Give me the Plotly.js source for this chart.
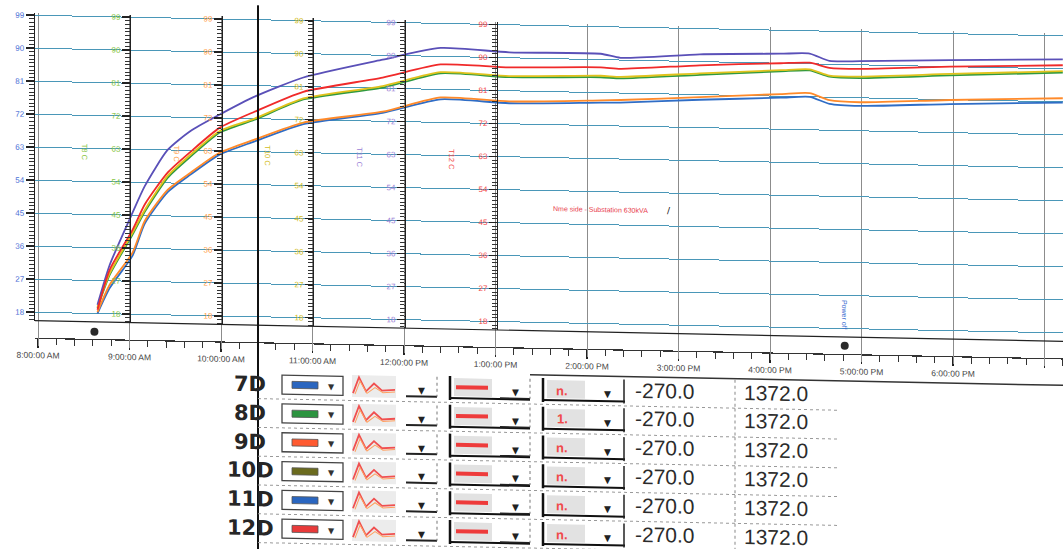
<!DOCTYPE html>
<html><head><meta charset="utf-8">
<script src="https://cdn.plot.ly/plotly-3.0.1.min.js"></script>
<style>
html,body{margin:0;padding:0;background:#fff;overflow:hidden;width:1063px;height:549px}
#chart{width:1063px;height:549px;transform:skewY(1.15deg);transform-origin:0 0;}
</style>
</head><body><div id="chart"></div>
<script>
// ---------------- data ----------------
const day = '2019-06-10 ';
const sampleTimes = ['08:39','08:47','09:02','09:10','09:25','09:40','09:59','10:22','10:54','11:46','12:24',
                     '13:09','14:09','14:22','15:14','16:07','16:26','16:39','16:59','17:58','19:12'];
const series7D  = [18.0,25.0,34.0,42.8,51.5,56.4,62.0,65.8,70.8,74.3,78.3,77.6,78.3,78.4,79.6,80.6,81.0,79.2,78.8,79.8,80.8];
const series8D  = [19.5,28.6,39.7,46.0,55.4,61.3,68.0,71.7,77.5,81.2,85.4,84.7,85.2,85.0,86.4,87.8,88.2,86.6,86.4,87.6,89.0];
const series9D  = [18.4,25.9,34.8,43.5,52.1,56.9,62.5,66.3,71.2,74.6,78.8,78.1,78.9,79.1,80.3,81.6,82.0,80.2,79.8,80.9,82.0];
const series10D = [19.8,29.0,40.2,46.5,55.9,61.8,68.4,72.0,77.8,81.6,85.7,85.0,85.6,85.4,86.8,88.1,88.5,86.9,86.8,88.0,89.4];
const series11D = [20.4,31.3,45.7,53.0,63.0,68.3,72.9,78.0,83.5,88.8,92.3,91.5,91.6,90.6,92.0,92.6,92.8,90.9,91.0,91.8,92.6];
const series12D = [19.0,30.0,41.0,48.0,56.8,62.6,69.3,73.9,79.6,83.9,87.8,87.4,87.9,87.6,89.0,90.0,90.3,89.0,88.9,90.0,91.0];

const rowLabels   = ['7D','8D','9D','10D','11D','12D'];
const modeLabels  = ['n.','1.','n.','n.','n.','n.'];
const minValues   = [-270.0,-270.0,-270.0,-270.0,-270.0,-270.0];
const maxValues   = [1372.0,1372.0,1372.0,1372.0,1372.0,1372.0];
const axisTitles  = ['','T8 C','T9 C','T10 C','T11 C','T12 C'];
const yTickValues = [18,27,36,45,54,63,72,81,90,99];
const eventTimes  = ['08:37','16:49'];
const eventValues = [13.0,13.3];
const eventLabels = ['','Power off'];
const noteText    = 'Nme side - Substation 630kVA';

// ---------------- styles ----------------
const lineColors  = ['#2f6dc6','#2f9a40','#ff8a2a','#e0c21c','#5a50b8','#f02a2a'];
const axisColors  = ['#4b6fd6','#86c441','#ffa04a','#d2bc1e','#9b82d6','#f24a4a'];
const swatchColors= ['#2a66c0','#2c9440','#ff5a30','#6b6b1e','#2a66c0','#e83a3a'];
const axisPx      = [35,130,222,313,405,497];
const W = 1063, H = 549;
const X = p => p / W, Y = p => 1 - p / H;

const allSeries = [series7D, series8D, series9D, series10D, series11D, series12D];
const axisIds = ['y','y2','y3','y4','y5','y6'];
const order = [0,2,1,3,5,4];
const traces = order.map(i => ({
  type:'scatter', mode:'lines', name:rowLabels[i],
  x: sampleTimes.map(t => day + t), y: allSeries[i], yaxis: axisIds[i],
  line:{color:lineColors[i], width:1.8, shape:'spline', smoothing:0.6}
}));
traces.push({type:'scatter', mode:'markers', x:eventTimes.map(t=>day+t), y:eventValues, yaxis:'y7',
  marker:{color:'#2a2a2a', size:8}, cliponaxis:false, showlegend:false});

function yAxis(i){
  const a = {domain:[Y(320),Y(12)], range:[15.7,99.7], tickmode:'array', tickvals:yTickValues,
    ticktext:yTickValues.map(String), ticks:'outside', ticklen:8, tickwidth:1.5, tickcolor:'#222',
    showline:true, linecolor:'#222', linewidth:1.2, zeroline:false,
    tickfont:{family:'Liberation Sans, sans-serif', size:8, color:axisColors[i]},
    minor:{tickmode:'linear', tick0:0, dtick:1, ticklen:5, tickwidth:1, tickcolor:'#333', showgrid:false},
    fixedrange:true};
  if (i === 0) { a.anchor='x'; a.showgrid=true; a.gridcolor='#4a97b8'; a.gridwidth=1; }
  else { a.overlaying='y'; a.anchor='free'; a.position=X(axisPx[i]); a.side='left'; a.showgrid=false; }
  return a;
}

const shapes = [], ann = [];
function line(x0,y0,x1,y1,color,width,dash){shapes.push({type:'line',xref:'paper',yref:'paper',x0:X(x0),y0:Y(y0),x1:X(x1),y1:Y(y1),line:{color:color,width:width,dash:dash||'solid'}});}
function rect(x0,y0,x1,y1,fill,lc,lw){shapes.push({type:'rect',xref:'paper',yref:'paper',x0:X(x0),y0:Y(y1),x1:X(x1),y1:Y(y0),fillcolor:fill,line:{color:lc||'rgba(0,0,0,0)',width:lw||0}});}
function path(pts,color,width){shapes.push({type:'path',xref:'paper',yref:'paper',path:'M'+pts.map(p=>X(p[0]).toFixed(5)+','+Y(p[1]).toFixed(5)).join(' L'),line:{color:color,width:width}});}
function text(x,y,t,size,color,opts){ann.push(Object.assign({xref:'paper',yref:'paper',x:X(x),y:Y(y),text:t,showarrow:false,xanchor:'center',yanchor:'middle',font:{family:'Liberation Sans, sans-serif',size:size,color:color}},opts||{}));}

// chart frame decorations
line(35,320,1063,320,'#222',1.2);
line(258,0,258,549,'#111',2);
line(530,364,1063,364,'#333',1.5);
axisTitles.forEach((t,i)=>{ if(t) text(axisPx[i]-45,150,t,7.5,axisColors[i],{textangle:90}); });
text(600,198,noteText,7,'#e8384a');
text(669,197,'/',9,'#111',{font:{family:'DejaVu Sans',size:9,color:'#111'}});
text(845,297,eventLabels[1],7,'#3a6ad0',{textangle:90});

// table
const ROW0 = 379, PITCH = 28.8;
const valFont = {family:'Liberation Sans Narrow, Liberation Sans, sans-serif',size:21,color:'#2b2b2b'};
const arrowFont = {family:'DejaVu Sans',size:9,color:'#222'};
rowLabels.forEach((lab,i)=>{
  const c = ROW0 + PITCH*i;
  text(250,c,'<b>'+lab+'</b>',21,'#262626',{font:{family:'DejaVu Sans, sans-serif',size:21,color:'#262626'}});
  rect(282,c-9.5,343,c+9.5,'rgba(255,255,255,0)','#444',1.3);
  rect(292,c-3.5,318,c+3.5,swatchColors[i],'#555',0.8);
  text(331,c+1,'▼',8,'#333',{font:{family:'DejaVu Sans',size:8,color:'#333'}});
  rect(352,c-11,396,c+11,'#ececec');
  path([[353,c+7],[359,c-9],[366,c+5],[374,c-3],[382,c+4],[395,c+3]],'#f05050',1.8);
  path([[355,c+8],[360,c-5],[367,c+7],[375,c+1],[383,c+6],[395,c+5]],'#ffa060',1);
  line(406,c+9,437,c+9,'#222',2);
  line(437,c-11,437,c+9,'#777',1,'dot');
  text(421,c+3,'▼',9,'#222',{font:arrowFont});
  rect(454,c-10,492,c+8,'#e2e2e2');
  line(450,c-12,450,c+12,'#111',2.5);
  line(450,c+10,530,c+10,'#111',2);
  line(456,c-1,488,c-1,'#ee3b3b',4);
  line(500,c+9,530,c+9,'#222',1.5);
  text(515,c+3,'▼',9,'#222',{font:arrowFont});
  line(530,c-11,530,c+9,'#777',1,'dot');
  rect(547,c-10,585,c+8,'#e2e2e2');
  line(543,c-12,543,c+12,'#111',2.5);
  line(543,c+10,625,c+10,'#111',2);
  text(562,c,'<b>'+modeLabels[i]+'</b>',13,'#f04a4a');
  text(607,c+3,'▼',9,'#222',{font:arrowFont});
  line(624,c-12,624,c+12,'#222',1.5);
  text(665,c-2,minValues[i].toFixed(1),21,'#2b2b2b',{font:valFont});
  text(776,c-2,maxValues[i].toFixed(1),21,'#2b2b2b',{font:valFont});
  line(735,c-14,735,c+14,'#888',1,'dot');
  line(258,c+14.4,838,c+14.4,'#999',1,'dot');
});

const layout = {
  width:W, height:H, margin:{l:0,r:0,t:0,b:0}, paper_bgcolor:'#fff', plot_bgcolor:'#fff', showlegend:false,
  xaxis:{type:'date', domain:[X(35),1], range:[day+'07:58:02', day+'19:12:08'], anchor:'free', position:Y(337),
    tick0:day+'08:00', dtick:3600000, tickformat:'%-I:%M:%S %p', ticks:'outside', ticklen:9, tickwidth:1.5,
    tickcolor:'#222', showline:true, linecolor:'#333', linewidth:1.2, showgrid:true, gridcolor:'#8c8c8c', gridwidth:1,
    tickfont:{family:'Liberation Sans, sans-serif', size:8.5, color:'#444'},
    minor:{dtick:720000, ticklen:6, tickwidth:1, tickcolor:'#333', showgrid:false}, fixedrange:true},
  yaxis:yAxis(0), yaxis2:yAxis(1), yaxis3:yAxis(2), yaxis4:yAxis(3), yaxis5:yAxis(4), yaxis6:yAxis(5),
  yaxis7:{domain:[Y(345),Y(320)], range:[8.87,15.7], anchor:'x', visible:false, showgrid:false, fixedrange:true},
  shapes:shapes, annotations:ann
};
Plotly.newPlot('chart', traces, layout, {staticPlot:true, displayModeBar:false});
</script></body></html>
